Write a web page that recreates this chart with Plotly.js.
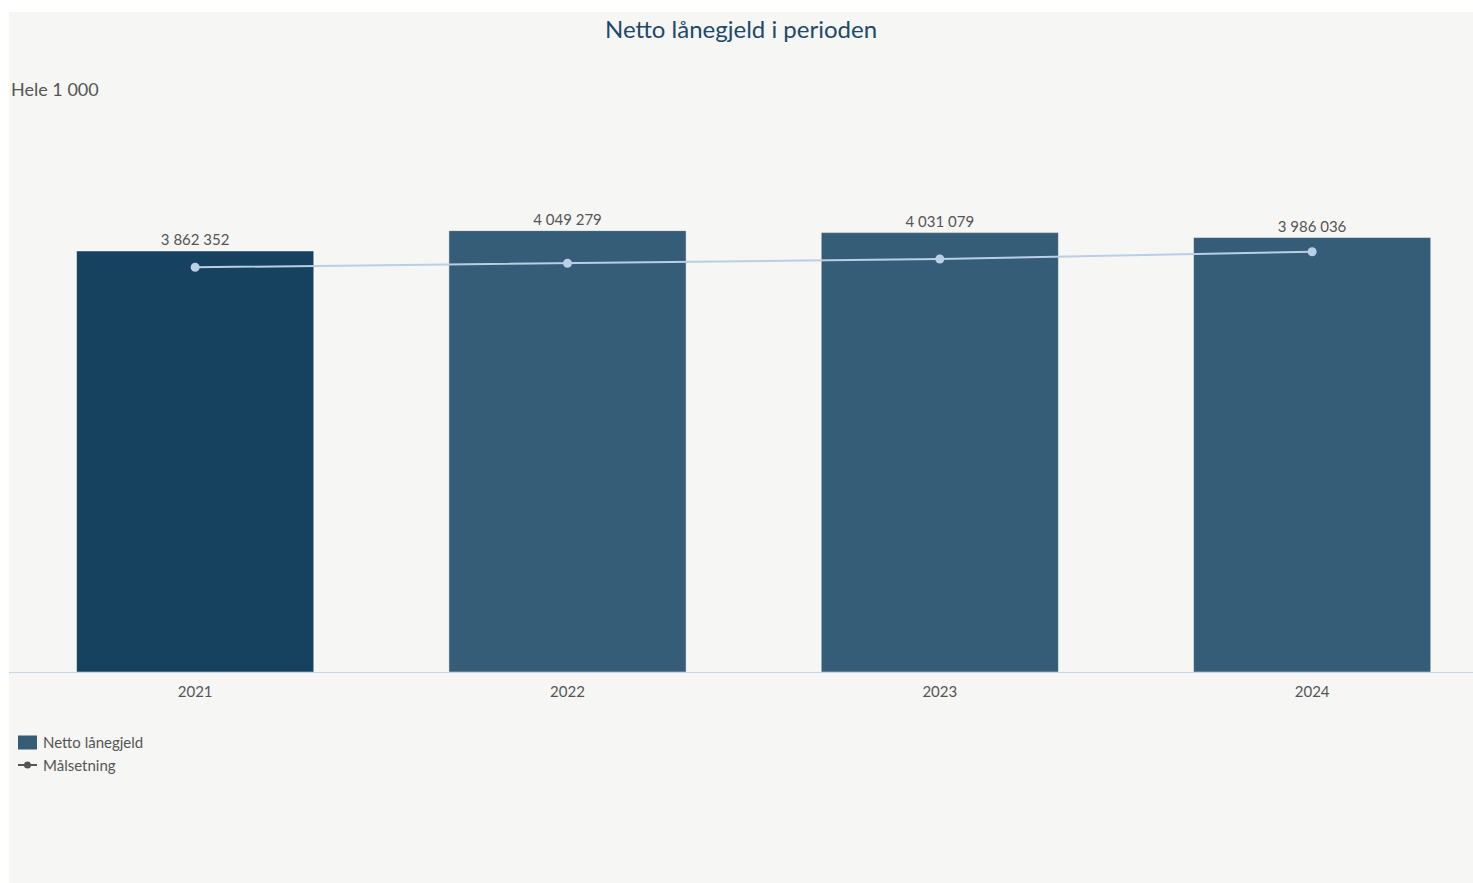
<!DOCTYPE html>
<html>
<head>
<meta charset="utf-8">
<script src="https://cdn.plot.ly/plotly-3.0.1.min.js"></script>
<style>
html,body{margin:0;padding:0;background:#ffffff;}
#chart{position:absolute;left:9px;top:12px;width:1464px;height:871px;}
</style>
</head>
<body>
<div id="chart"></div>
<script>
const years = ['2021', '2022', '2023', '2024'];
const nettoLanegjeld = [3862352, 4049279, 4031079, 3986036];
const malsetning = [3713000, 3750000, 3789000, 3856000];
const barColors = ['#16425f', '#365d77', '#365d77', '#365d77'];

const fontFamily = 'Lato, "Open Sans", sans-serif';

const traces = [
  {
    type: 'bar',
    name: 'Netto lånegjeld',
    x: years,
    y: nettoLanegjeld,
    width: 0.637,
    marker: {color: barColors, line: {color: 'rgba(255,255,255,0.45)', width: 1}},
    texttemplate: '%{y:,}',
    textposition: 'outside',
    cliponaxis: false,
    textfont: {size: 15, color: '#555555', family: fontFamily},
    hoverinfo: 'skip'
  },
  {
    type: 'scatter',
    mode: 'lines+markers',
    name: 'Målsetning',
    x: years,
    y: malsetning,
    line: {color: '#b9cfe5', width: 2},
    marker: {color: '#b9cfe5', size: 9},
    hoverinfo: 'skip'
  }
];

const layout = {
  width: 1464,
  height: 871,
  paper_bgcolor: '#f6f6f4',
  plot_bgcolor: '#f6f6f4',
  separators: ', ',
  margin: {l: 0, r: 0, t: 88, b: 211},
  font: {family: fontFamily, color: '#555555', size: 15},
  title: {
    text: 'Netto lånegjeld i perioden',
    font: {size: 24, color: '#1d4a6b', family: fontFamily},
    x: 0.5, xanchor: 'center', y: 0.98, yanchor: 'middle', yref: 'container'
  },
  xaxis: {
    type: 'category',
    range: [-0.5, 3.432],
    showgrid: false,
    showline: true,
    linecolor: '#c6d6ea',
    linewidth: 1,
    ticks: '',
    ticklabelstandoff: 6,
    tickfont: {size: 15, color: '#555555'},
    fixedrange: true
  },
  yaxis: {
    range: [0, 5247700],
    visible: false,
    showgrid: false,
    zeroline: false,
    fixedrange: true
  },
  bargap: 0.36,
  showlegend: true,
  legend: {
    x: 0, xanchor: 'left',
    y: -0.095, yanchor: 'top',
    orientation: 'v',
    bgcolor: 'rgba(0,0,0,0)',
    font: {size: 15, color: '#555555'},
    itemsizing: 'constant',
    tracegroupgap: 2
  },
  annotations: [
    {
      text: 'Hele 1 000',
      xref: 'paper', yref: 'paper',
      x: 0, xanchor: 'left',
      y: 1, yshift: 11, yanchor: 'middle',
      showarrow: false,
      font: {size: 18, color: '#555555'}
    }
  ]
};

Plotly.newPlot('chart', traces, layout, {displayModeBar: false, staticPlot: true}).then(function(gd){
  // nudge legend left and restyle swatches as in the reference
  const leg = gd.querySelector('.legend');
  if (leg) {
    const t = leg.getAttribute('transform') || '';
    const m = t.match(/translate\(\s*([-\d.]+)[ ,]+([-\d.]+)\s*\)/);
    if (m) leg.setAttribute('transform', 'translate(' + (parseFloat(m[1]) - 6) + ',' + m[2] + ')');
  }
  const items = gd.querySelectorAll('.legend .traces');
  if (items[0]) {
    items[0].querySelectorAll('.legendpoints path').forEach(function(p){
      p.setAttribute('d', 'M-5,-7h19v14h-19z');
      p.style.fill = '#365d77';
      p.style.stroke = 'none';
    });
  }
  if (items[1]) {
    items[1].querySelectorAll('.js-line').forEach(function(p){
      p.setAttribute('d', 'M15,0h19');
      p.style.stroke = '#555555';
      p.style.strokeWidth = '2px';
    });
    items[1].querySelectorAll('.legendpoints path.scatterpts').forEach(function(p){
      p.setAttribute('transform', 'translate(24.5,0)');
      p.setAttribute('d', 'M3.5,0A3.5,3.5 0 1,1 0,-3.5A3.5,3.5 0 0,1 3.5,0Z');
      p.style.fill = '#555555';
    });
  }
});
</script>
</body>
</html>
